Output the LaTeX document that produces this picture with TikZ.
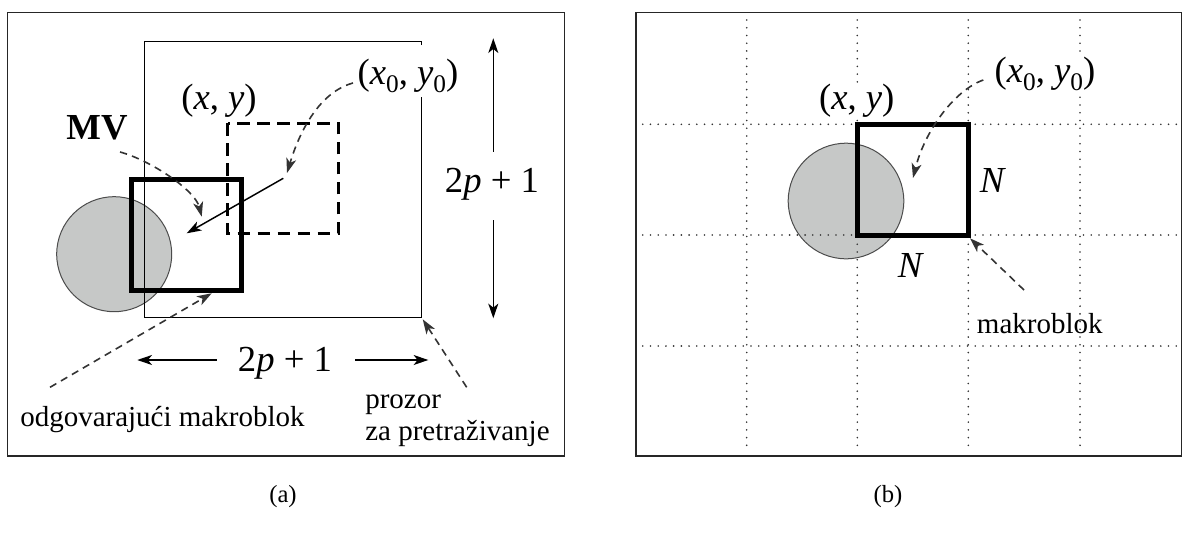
\documentclass[tikz,border=0pt]{standalone}
\usepackage{fontspec}
\setmainfont{Liberation Serif}
\usetikzlibrary{arrows.meta}
\definecolor{blobgray}{HTML}{C6C8C7}
\newcommand{\lblfont}{\fontsize{27.5}{30}\selectfont}
\newcommand{\txtfont}{\fontsize{21.75}{24}\selectfont}
\newcommand{\capfont}{\fontsize{18.5}{20}\selectfont}
\newcommand{\zsub}{\raisebox{-0.22em}{\fontsize{19}{19}\selectfont 0}}
\begin{document}
\begin{tikzpicture}[x=0.75pt,y=-0.75pt,
  frame/.style={draw=black!85, line width=1.1pt},
  winline/.style={line width=0.95pt},
  thickbox/.style={line width=3.75pt},
  dbox/.style={line width=2pt, dash pattern=on 9.5pt off 5.5pt},
  tip/.style={-{Stealth[length=11pt,width=7.5pt,inset=3pt]}},
  dconn/.style={tip, draw=black!80, line width=1.2pt, dash pattern=on 5.5pt off 4pt},
  sarrow/.style={tip, line width=1pt},
  blob/.style={fill=blobgray, draw=black!70, line width=0.75pt},
  gridline/.style={draw=black!80, line width=1.35pt, line cap=round, dash pattern=on 0pt off 5.8pt},
  lab/.style={inner sep=0pt, font=\lblfont},
  wlab/.style={lab, fill=white, inner sep=1pt},
  txtn/.style={inner sep=0pt, font=\txtfont, anchor=base west},
]
\useasboundingbox (0,0) rectangle (1182,533);

% ---------------- panel (a) ----------------
\draw[frame] (7.5,12.5) rectangle (564.3,455.8);
\draw[blob] (114.2,254.2) circle[radius=57.5];
\draw[winline] (421.7,45) -- (421.7,41.7) -- (144.3,41.7) -- (144.3,317.7) -- (421.7,317.7) -- (421.7,96.7);
\draw[dbox] (227.7,123.3) rectangle (338.7,233.3);
\draw[thickbox] (131,179) rectangle (241.5,290.5);

\coordinate (mvs) at (283.3,178.3);
\coordinate (mve) at (186.7,233.3);
\draw[sarrow, line width=1.1pt] (mvs) -- (mve);

\node[lab] (xyA) at (219,101) {(\textit{x}, \textit{y})};
\node[wlab] (x0A) at (408,76) {(\textit{x}\zsub, \textit{y}\zsub)};
\node[lab, font=\lblfont\bfseries] (mv) at (97,128) {MV};

\node[lab] (vlab) at (492,184) {2\textit{p} + 1};
\coordinate (va1) at (493.3,151.7);
\coordinate (va2) at (493.3,38.3);
\coordinate (vb1) at (493.3,220);
\coordinate (vb2) at (493.3,318.3);
\draw[sarrow] (va1) -- (va2);
\draw[sarrow] (vb1) -- (vb2);

\node[lab] (hlab) at (285,363) {2\textit{p} + 1};
\coordinate (ha1) at (216.7,360);
\coordinate (ha2) at (137.3,360);
\coordinate (hb1) at (355,360);
\coordinate (hb2) at (428.3,360);
\draw[sarrow] (ha1) -- (ha2);
\draw[sarrow] (hb1) -- (hb2);

\coordinate (x0s) at (353,83);
\coordinate (x0e) at (287,173);
\draw[dconn] (x0s) .. controls (320,92) and (300,130) .. (x0e);
\coordinate (mvcs) at (120,152);
\coordinate (mvce) at (201.7,216.7);
\draw[dconn] (mvcs) .. controls (150,160) and (195,190) .. (mvce);

\node[txtn] (odg) at (20,426.7) {odgovarajući makroblok};
\node[txtn] (proz) at (365,408.3) {prozor};
\node[txtn] (zap) at (365,440) {za pretraživanje};
\coordinate (oms) at (50,387.3);
\coordinate (ome) at (211.7,293.3);
\draw[dconn] (oms) -- (ome);
\coordinate (prs) at (466.7,387.3);
\coordinate (pre) at (422.7,319.3);
\draw[dconn] (prs) -- (pre);

\node[font=\capfont, inner sep=0pt] (capa) at (283,497) {(a)};

% ---------------- panel (b) ----------------
\draw[frame] (636,12.3) rectangle (1181.3,456);
\draw[blob] (846,201) circle[radius=57.8];
\foreach \gx in {746.7,857.3,968.3,1080} {
  \draw[gridline] (\gx,20) -- (\gx,452);
}
\foreach \gy in {124.3,235,346} {
  \draw[gridline] (642.7,\gy) -- (1181,\gy);
}
\draw[thickbox] (857.3,124.3) rectangle (968.3,235);

\node[wlab] (xyB) at (856.7,101) {(\textit{x}, \textit{y})};
\node[wlab] (x0B) at (1045,74) {(\textit{x}\zsub, \textit{y}\zsub)};
\node[lab] (nr) at (993,180) {\textit{N}};
\node[lab] (nb) at (911,265) {\textit{N}};
\node[txtn] (mkb) at (976.7,333.3) {makroblok};

\coordinate (bx0s) at (983.3,80);
\coordinate (bx0e) at (913,178);
\draw[dconn] (bx0s) .. controls (955,90) and (925,130) .. (bx0e);
\coordinate (bms) at (1024,290);
\coordinate (bme) at (970,238.3);
\draw[dconn] (bms) -- (bme);

\node[font=\capfont, inner sep=0pt] (capb) at (888,497) {(b)};
\end{tikzpicture}
\end{document}
